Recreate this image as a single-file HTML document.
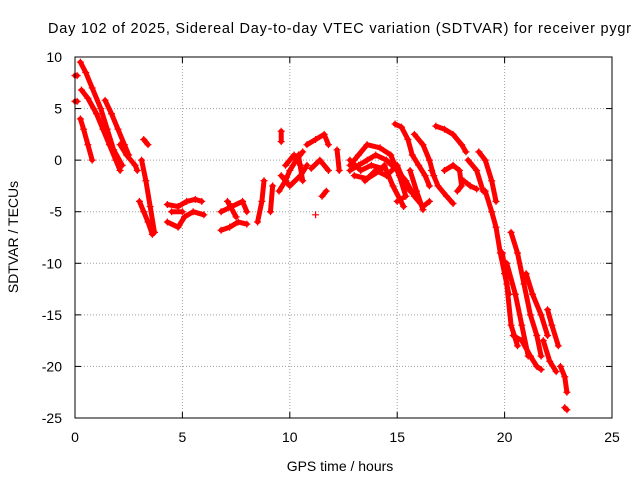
<!DOCTYPE html>
<html><head><meta charset="utf-8"><style>
html,body{margin:0;padding:0;background:#fff;}
svg{display:block;font-family:"Liberation Sans",sans-serif;}
</style></head><body>
<svg id="chart" width="640" height="480" viewBox="0 0 640 480" xmlns="http://www.w3.org/2000/svg">
<rect x="0" y="0" width="640" height="480" fill="#fff"/>
<text x="48" y="33" font-size="14.5" fill="#000" textLength="583" lengthAdjust="spacing">Day 102 of 2025, Sidereal Day-to-day VTEC variation (SDTVAR) for receiver pygr</text>
<g id="grid"></g>
<g id="marks"></g>
<rect x="75" y="57" width="537" height="361" fill="none" stroke="#000" stroke-width="1"/>
<g id="ticks"></g>
<text x="340" y="471" font-size="14" text-anchor="middle">GPS time / hours</text>
<text x="18" y="237" font-size="14" text-anchor="middle" transform="rotate(-90 18 237)">SDTVAR / TECUs</text>
</svg>
<script>
const xTicks=[0,5,10,15,20,25];
const yTicks=[10,5,0,-5,-10,-15,-20,-25];
const tracks=[
[[0,8.2],[0.1,8.2]],
[[0,5.7],[0.1,5.7]],
[[0.25,9.5],[0.5,8.5],[0.8,7],[1.2,5],[1.5,3],[1.8,1],[2.2,-0.5]],
[[0.3,6.8],[0.6,6],[1,4.5],[1.3,3],[1.6,1.5],[1.9,0],[2.1,-1]],
[[0.25,4],[0.4,3],[0.6,1.5],[0.8,0]],
[[1.4,5.8],[1.7,4.5],[2,3],[2.3,1.5],[2.5,0.5]],
[[2.1,1.5],[2.4,0.5],[2.8,-0.5],[2.9,-1]],
[[3.2,2],[3.4,1.5]],
[[3.1,0],[3.3,-2],[3.5,-4.5],[3.7,-7]],
[[3.0,-4],[3.2,-5],[3.4,-6],[3.6,-7.2]],
[[4.3,-4.3],[4.8,-4.5],[5.2,-4],[5.6,-3.8],[5.9,-4]],
[[4.3,-6],[4.8,-6.5],[5.1,-5.5],[5.5,-5],[6,-5.3]],
[[4.5,-5],[5,-5]],
[[6.8,-6.8],[7.2,-6.5],[7.6,-6],[8,-6.2]],
[[6.8,-5],[7.3,-4.5],[7.8,-4],[8,-5]],
[[7.1,-4],[7.5,-5.5]],
[[8.5,-6],[8.7,-4],[8.8,-2]],
[[9.1,-5],[9.2,-2.5]],
[[9.6,2.8],[9.6,1.8]],
[[9.5,-3],[9.8,-2],[10,-1],[10.3,0],[10.6,0.8]],
[[9.6,-1.5],[10,-2.5],[10.5,-1.5],[10.8,-0.5]],
[[9.8,-0.5],[10.2,0.5],[10.5,-0.5]],
[[10.4,0.5],[10.6,-2]],
[[10.8,1.5],[11.2,2],[11.6,2.5],[11.8,1.5]],
[[11,-0.8],[11.4,0],[11.8,-1]],
[[11.5,-3.5],[11.7,-3]],
[[11.2,-5.3]],
[[12.2,1],[12.3,-1]],
[[12.8,-1],[13.2,-0.5],[13.6,0],[14,0.5],[14.5,0],[15,-1],[15.4,-2],[15.8,-3.5],[16.2,-4.5],[16.5,-4]],
[[12.8,-0.5],[13.2,0.5],[13.6,1.5],[14.2,1.2],[14.7,0.5],[15.1,-1.5],[15.4,-3.5],[15,-4]],
[[12.8,0],[13.3,-1],[13.8,-0.5],[14.3,-0.8]],
[[13,-1.5],[13.6,-1.8],[14.2,-1]],
[[14.4,-0.5],[14.8,-2.5],[15.3,-4.5]],
[[15.6,-1],[15.9,-3],[16.2,-4.8]],
[[14.9,3.5],[15.2,3.2],[15.5,2],[15.7,0.5],[16,-0.5],[16.3,-1.5],[16.5,-2.5]],
[[13.5,-2],[14,-1],[14.5,-1.5],[15,-0.5],[15.3,-2],[15.6,-3]],
[[15.8,2.5],[16.2,1.5],[16.5,0],[16.7,-1.5]],
[[16.8,3.3],[17.2,3],[17.6,2.5],[18,1.5],[18.2,0.8]],
[[16.6,-1],[16.9,-2.5],[17.3,-3.5],[17.6,-4.2]],
[[17.2,-1],[17.6,-0.5],[17.9,-1],[18,-2.5],[17.8,-3]],
[[18.1,-2],[18.4,-2.5],[18.7,-2.8]],
[[18.3,0],[18.7,-1],[19,-3]],
[[18.8,0.8],[19.1,0],[19.4,-2],[19.6,-4]],
[[19.1,-3],[19.4,-5],[19.6,-6.5],[19.8,-9],[20,-11],[20.2,-13]],
[[19.9,-9],[20.1,-12],[20.3,-16],[20.6,-18]],
[[20.3,-7],[20.6,-9],[20.9,-12],[21.2,-15],[21.5,-17],[21.7,-19]],
[[20.4,-17],[20.8,-17.5],[21.2,-19],[21.5,-20],[21.7,-20.3]],
[[20.1,-10],[20.5,-13],[20.8,-16],[21.1,-19]],
[[21,-11],[21.3,-13],[21.7,-15],[22,-17]],
[[22,-14.5],[22.2,-16],[22.5,-18]],
[[21.8,-17.5],[22.1,-19.5],[22.4,-20.5]],
[[22.6,-20],[22.8,-21],[22.9,-22.5]],
[[22.8,-24],[22.9,-24.2]]
];
const X0=75,X1=612,Y0=418,Y1=57;
function sx(v){return X0+(v-0)/(25-0)*(X1-X0);}
function sy(v){return Y0-(v-(-25))/(10-(-25))*(Y0-Y1);}
const NS='http://www.w3.org/2000/svg';
const grid=document.getElementById('grid'),ticks=document.getElementById('ticks'),marks=document.getElementById('marks');
function mk(t,a,p){const e=document.createElementNS(NS,t);for(const k in a)e.setAttribute(k,a[k]);p.appendChild(e);return e;}
xTicks.forEach(v=>{
  const x=sx(v);
  if(v>0&&v<25){const g=mk('line',{x1:x,y1:Y1,x2:x,y2:Y0,stroke:'#a0a0a0','stroke-dasharray':'1,2'},grid);
  
  }
  const t=mk('line',{x1:x,y1:Y0,x2:x,y2:Y0-6,stroke:'#000'},ticks);
  
  
  const t2=mk('line',{x1:x,y1:Y1,x2:x,y2:Y1+6,stroke:'#000'},ticks);
  
  
  const l=mk('text',{x:x,y:442,'font-size':14,'text-anchor':'middle'},ticks);l.textContent=v;
  
  
});
yTicks.forEach(v=>{
  const y=sy(v);
  if(v<10&&v>-25){const g=mk('line',{x1:X0,y1:y,x2:X1,y2:y,stroke:'#a0a0a0','stroke-dasharray':'1,2'},grid);
  
  }
  const t=mk('line',{x1:X0,y1:y,x2:X0+6,y2:y,stroke:'#000'},ticks);
  
  
  const t2=mk('line',{x1:X1,y1:y,x2:X1-6,y2:y,stroke:'#000'},ticks);
  
  
  const l=mk('text',{x:62,y:y+5,'font-size':14,'text-anchor':'end'},ticks);l.textContent=v;
  
  
});
tracks.forEach(tr=>{
  const g=mk('g',{},marks);
  
  
  if(tr.length>1){
    const pl=mk('polyline',{points:tr.map(p=>sx(p[0])+','+sy(p[1])).join(' '),fill:'none',stroke:'#ff0000','stroke-width':5,'stroke-linejoin':'round','stroke-linecap':'round'},g);
    
    
  }
  tr.forEach(p=>{
    const x=sx(p[0]),y=sy(p[1]);
    const m=mk('path',{d:`M${x-3.5},${y}H${x+3.5}M${x},${y-3.5}V${y+3.5}`,stroke:'#ff0000','stroke-width':1.2},g);
    
    
  });
});
</script>
</body></html>
